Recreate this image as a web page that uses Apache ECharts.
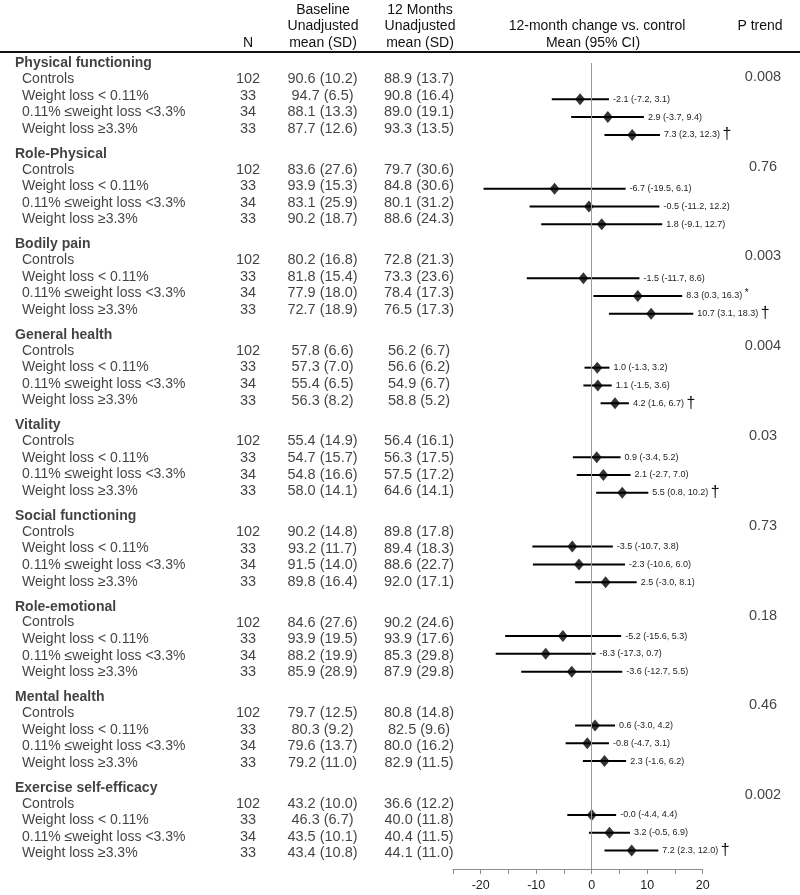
<!DOCTYPE html>
<html>
<head>
<meta charset="utf-8">
<script src="https://cdn.jsdelivr.net/npm/echarts@6/dist/echarts.min.js"></script>
<style>
html,body{margin:0;padding:0;background:#fff;}
#chart{width:800px;height:895px;}
</style>
</head>
<body>
<div id="chart"></div>
<script>
// ---------------- DATA ----------------
const groups = ['Physical functioning','Role-Physical','Bodily pain','General health','Vitality','Social functioning','Role-emotional','Mental health','Exercise self-efficacy'];
const rowLabels = ['Controls','Weight loss < 0.11%','0.11% \u2264weight loss <3.3%','Weight loss \u22653.3%'];
const nValues = [102, 33, 34, 33];

const baseMean = [
  [90.6, 94.7, 88.1, 87.7],
  [83.6, 93.9, 83.1, 90.2],
  [80.2, 81.8, 77.9, 72.7],
  [57.8, 57.3, 55.4, 56.3],
  [55.4, 54.7, 54.8, 58.0],
  [90.2, 93.2, 91.5, 89.8],
  [84.6, 93.9, 88.2, 85.9],
  [79.7, 80.3, 79.6, 79.2],
  [43.2, 46.3, 43.5, 43.4]
];
const baseSD = [
  [10.2, 6.5, 13.3, 12.6],
  [27.6, 15.3, 25.9, 18.7],
  [16.8, 15.4, 18.0, 18.9],
  [6.6, 7.0, 6.5, 8.2],
  [14.9, 15.7, 16.6, 14.1],
  [14.8, 11.7, 14.0, 16.4],
  [27.6, 19.5, 19.9, 28.9],
  [12.5, 9.2, 13.7, 11.0],
  [10.0, 6.7, 10.1, 10.8]
];
const m12Mean = [
  [88.9, 90.8, 89.0, 93.3],
  [79.7, 84.8, 80.1, 88.6],
  [72.8, 73.3, 78.4, 76.5],
  [56.2, 56.6, 54.9, 58.8],
  [56.4, 56.3, 57.5, 64.6],
  [89.8, 89.4, 88.6, 92.0],
  [90.2, 93.9, 85.3, 87.9],
  [80.8, 82.5, 80.0, 82.9],
  [36.6, 40.0, 40.4, 44.1]
];
const m12SD = [
  [13.7, 16.4, 19.1, 13.5],
  [30.6, 30.6, 31.2, 24.3],
  [21.3, 23.6, 17.3, 17.3],
  [6.7, 6.2, 6.7, 5.2],
  [16.1, 17.5, 17.2, 14.1],
  [17.8, 18.3, 22.7, 17.1],
  [24.6, 17.6, 29.8, 29.8],
  [14.8, 9.6, 16.2, 11.5],
  [12.2, 11.8, 11.5, 11.0]
];
// 12-month change vs control (3 weight-loss groups)
const changeEst = [
  [-2.1, 2.9, 7.3],
  [-6.7, -0.5, 1.8],
  [-1.5, 8.3, 10.7],
  [1.0, 1.1, 4.2],
  [0.9, 2.1, 5.5],
  [-3.5, -2.3, 2.5],
  [-5.2, -8.3, -3.6],
  [0.6, -0.8, 2.3],
  [-0.0, 3.2, 7.2]
];
const changeLo = [
  [-7.2, -3.7, 2.3],
  [-19.5, -11.2, -9.1],
  [-11.7, 0.3, 3.1],
  [-1.3, -1.5, 1.6],
  [-3.4, -2.7, 0.8],
  [-10.7, -10.6, -3.0],
  [-15.6, -17.3, -12.7],
  [-3.0, -4.7, -1.6],
  [-4.4, -0.5, 2.3]
];
const changeHi = [
  [3.1, 9.4, 12.3],
  [6.1, 12.2, 12.7],
  [8.6, 16.3, 18.3],
  [3.2, 3.6, 6.7],
  [5.2, 7.0, 10.2],
  [3.8, 6.0, 8.1],
  [5.3, 0.7, 5.5],
  [4.2, 3.1, 6.2],
  [4.4, 6.9, 12.0]
];
const sigMarks = [
  ['', '', '\u2020'],
  ['', '', ''],
  ['', '*', '\u2020'],
  ['', '', '\u2020'],
  ['', '', '\u2020'],
  ['', '', ''],
  ['', '', ''],
  ['', '', ''],
  ['', '', '\u2020']
];
const pTrend = ['0.008','0.76','0.003','0.004','0.03','0.73','0.18','0.46','0.002'];
const xTicks = [-20, -10, 0, 10, 20];

// ---------------- LAYOUT ----------------
const YMAX = 47.41;                       // 17 px per unit, 0 at grid top (y=63)
const headerY = g => 0.02 + g * 5.327;
const rowY = (g, r) => headerY(g) + 0.93 + r * 0.975;
const forestY = (g, k) => 2.135 + g * 5.262 + k * 1.047;
const pY = g => 0.82 + g * 5.28;
const FONT = "'Liberation Sans', Arial, Helvetica, sans-serif";
const fmt = v => (Object.is(v, -0) ? '-' : '') + v.toFixed(1);

const COL = {header: 15, label: 22, n: 248, base: 322.5, m12: 419, p: 763};

// text items for table grid
const leftItems = [], boldItems = [], nItems = [], baseItems = [], m12Items = [], pItems = [];
groups.forEach((g, gi) => {
  boldItems.push({value: [COL.header, headerY(gi)], name: g});
  rowLabels.forEach((lab, r) => {
    const y = rowY(gi, r);
    leftItems.push({value: [COL.label, y], name: lab});
    nItems.push({value: [COL.n, y], name: String(nValues[r])});
    baseItems.push({value: [COL.base, y], name: fmt(baseMean[gi][r]) + ' (' + fmt(baseSD[gi][r]) + ')'});
    m12Items.push({value: [COL.m12, y], name: fmt(m12Mean[gi][r]) + ' (' + fmt(m12SD[gi][r]) + ')'});
  });
  pItems.push({value: [COL.p, pY(gi)], name: pTrend[gi]});
});

function textSeries(data, align, extra) {
  return {
    type: 'scatter', xAxisIndex: 1, yAxisIndex: 1, symbolSize: 0, silent: true, clip: false,
    data: data,
    label: Object.assign({
      show: true, position: [0, 0], align: align, verticalAlign: 'middle',
      formatter: p => p.name, color: '#111', fontFamily: FONT, fontSize: 14
    }, extra || {})
  };
}

// forest data
const ciData = [], ptData = [], ciText = [];
groups.forEach((g, gi) => {
  for (let k = 0; k < 3; k++) {
    const y = forestY(gi, k);
    ciData.push([changeLo[gi][k], changeHi[gi][k], y]);
    ptData.push([changeEst[gi][k], y]);
    const main = fmt(changeEst[gi][k]) + ' (' + fmt(changeLo[gi][k]) + ', ' + fmt(changeHi[gi][k]) + ')';
    const m = sigMarks[gi][k];
    let t = '{a|' + main + '}';
    if (m === '\u2020') t += '{a| }{d|\u2020}';
    else if (m === '*') t += '{a| }{s|*}';
    ciText.push(t);
  }
});

const chart = echarts.init(document.getElementById('chart'), null, {renderer: 'canvas'});
const headerStyle = {fontFamily: FONT, fontSize: 14, fill: '#111', align: 'center', verticalAlign: 'middle'};
function hText(x, y, text) { return {type: 'text', x: x, y: y, style: Object.assign({text: text}, headerStyle)}; }

chart.setOption({
  animation: false,
  backgroundColor: '#fff',
  grid: [
    {left: 453, right: 97.3, top: 63, bottom: 26},
    {left: 0, right: 0, top: 63, bottom: 26}
  ],
  xAxis: [
    {
      type: 'value', gridIndex: 0, min: -25, max: 20, interval: 5, position: 'bottom',
      axisLine: {show: true, onZero: false, lineStyle: {color: '#8c8c8c', width: 1}},
      axisTick: {show: true, length: 5, lineStyle: {color: '#8c8c8c'}},
      splitLine: {show: false},
      axisLabel: {
        show: true, margin: 10, fontSize: 12.5, color: '#222', fontFamily: FONT,
        showMaxLabel: true, showMinLabel: true,
        formatter: v => (xTicks.indexOf(v) >= 0 ? String(v) : '')
      }
    },
    {type: 'value', gridIndex: 1, min: 0, max: 800, show: false}
  ],
  yAxis: [
    {type: 'value', gridIndex: 0, min: 0, max: YMAX, inverse: true, show: false},
    {type: 'value', gridIndex: 1, min: 0, max: YMAX, inverse: true, show: false}
  ],
  graphic: [
    {type: 'line', shape: {x1: 0, y1: 52, x2: 800, y2: 52}, style: {stroke: '#111', lineWidth: 2}},
    hText(248, 43, 'N'),
    hText(323, 10, 'Baseline'), hText(323, 26.5, 'Unadjusted'), hText(323, 43, 'mean (SD)'),
    hText(420, 10, '12 Months'), hText(420, 26.5, 'Unadjusted'), hText(420, 43, 'mean (SD)'),
    hText(597, 26.5, '12-month change vs. control'), hText(593, 43, 'Mean (95% CI)'),
    hText(760, 26.5, 'P trend')
  ],
  series: [
    textSeries(boldItems, 'left', {fontWeight: 'bold'}),
    textSeries(leftItems, 'left'),
    textSeries(nItems, 'center', {fontSize: 14.5}),
    textSeries(baseItems, 'center', {fontSize: 14.5}),
    textSeries(m12Items, 'center', {fontSize: 14.5}),
    textSeries(pItems, 'center', {fontSize: 14.5}),
    {
      type: 'custom', xAxisIndex: 0, yAxisIndex: 0, silent: true, clip: false,
      data: ciData,
      encode: {x: [0, 1], y: 2},
      renderItem: function (params, api) {
        const y = api.value(2);
        const p1 = api.coord([api.value(0), y]);
        const p2 = api.coord([api.value(1), y]);
        return {
          type: 'group',
          children: [
            {type: 'line', shape: {x1: p1[0], y1: p1[1], x2: p2[0], y2: p2[1]}, style: {stroke: '#000', lineWidth: 2}},
            {type: 'text', x: p2[0] + 4, y: p2[1],
              style: {
                text: ciText[params.dataIndex], verticalAlign: 'middle', align: 'left',
                rich: {
                  a: {fontSize: 9, fontFamily: FONT, fill: '#222'},
                  d: {fontSize: 16, fontFamily: FONT, fill: '#111'},
                  s: {fontSize: 10, fontFamily: FONT, fill: '#111', padding: [0, 0, 6, 0]}
                }
              }}
          ]
        };
      }
    },
    {
      type: 'scatter', xAxisIndex: 0, yAxisIndex: 0, silent: true,
      symbol: 'diamond', symbolSize: [10, 12],
      itemStyle: {color: '#000'},
      data: ptData,
      markLine: {
        silent: true, symbol: ['none', 'none'], animation: false,
        lineStyle: {color: '#9a9a9a', width: 1, type: 'solid'},
        label: {show: false},
        data: [{xAxis: 0}]
      },
      z: 3
    }
  ]
});
</script>
</body>
</html>
